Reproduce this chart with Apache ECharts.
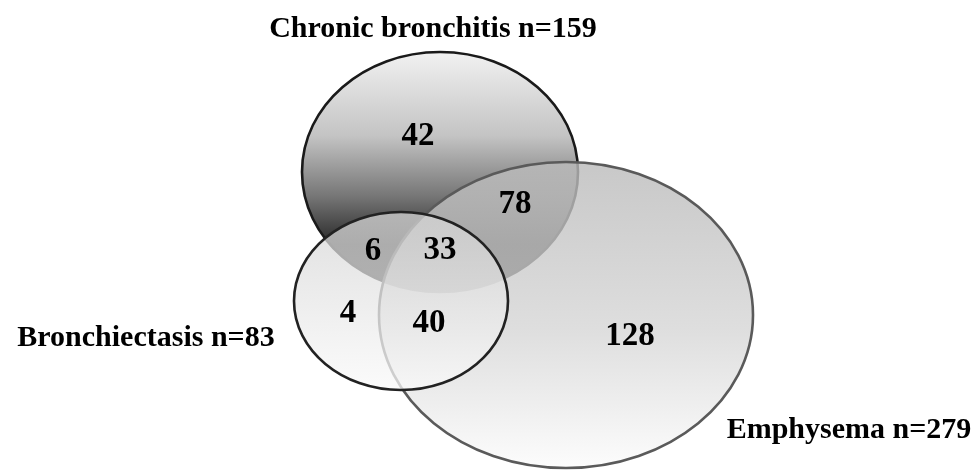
<!DOCTYPE html>
<html>
<head>
<meta charset="utf-8">
<script src="https://cdn.jsdelivr.net/npm/echarts@6/dist/echarts.min.js"></script>
<style>
  html, body { margin: 0; padding: 0; background: #fff; }
  #chart { width: 979px; height: 470px; }
</style>
</head>
<body>
<div id="chart"></div>
<script>
// sets: Chronic bronchitis, Bronchiectasis, Emphysema
const setNames = ["Chronic bronchitis", "Bronchiectasis", "Emphysema"];
const setTotals = [159, 83, 279];

// region counts (C = chronic bronchitis, B = bronchiectasis, E = emphysema)
const regionKeys = ["C", "CE", "CB", "CBE", "B", "BE", "E"];
const regionCounts = [42, 78, 6, 33, 4, 40, 128];

// layout, in axis units (the axes span the whole canvas)
const ellipseCx = [440, 401, 566];
const ellipseCy = [172, 301, 315];
const ellipseRx = [138, 107, 187];
const ellipseRy = [120, 89, 153];
const regionLabelX = [418, 515, 373, 440, 348, 429, 630];
const regionLabelY = [136, 204, 251, 250, 313, 323, 336];
const setLabelX = [433, 146, 849];
const setLabelY = [29, 338, 430];

const LG = echarts.graphic.LinearGradient;
const ellipseFill = [
  new LG(0, 0, 0, 1, [
    { offset: 0, color: "#f2f2f2" },
    { offset: 0.35, color: "#c4c4c4" },
    { offset: 0.6, color: "#767676" },
    { offset: 0.8, color: "#282828" },
    { offset: 1, color: "#1a1a1a" },
  ]),
  new LG(0, 0, 0, 1, [
    { offset: 0, color: "rgba(212,212,212,0.74)" },
    { offset: 1, color: "rgba(250,250,250,0.74)" },
  ]),
  new LG(0, 0, 0, 1, [
    { offset: 0, color: "rgba(186,186,186,0.8)" },
    { offset: 0.55, color: "rgba(214,214,214,0.8)" },
    { offset: 1, color: "rgba(252,252,252,0.8)" },
  ]),
];
const ellipseStroke = ["#1a1a1a", "#222222", "#5a5a5a"];
const ellipseZ = [1, 3, 2];

const serif = '"Liberation Serif", "DejaVu Serif", serif';

const chart = echarts.init(document.getElementById("chart"), null, { renderer: "canvas" });

const setData = setNames.map((name, i) => [ellipseCx[i], ellipseCy[i], ellipseRx[i], ellipseRy[i]]);
const regionData = regionCounts.map((v, i) => [regionLabelX[i], regionLabelY[i], v]);
const setLabelData = setNames.map((name, i) => [setLabelX[i], setLabelY[i], i]);

chart.setOption({
  animation: false,
  backgroundColor: "#ffffff",
  grid: { left: 0, right: 0, top: 0, bottom: 0 },
  xAxis: { type: "value", min: 0, max: 979, show: false },
  yAxis: { type: "value", min: 0, max: 470, inverse: true, show: false },
  series: [
    {
      type: "custom",
      name: "sets",
      data: setData,
      renderItem: (params, api) => {
        const i = params.dataIndex;
        const c = api.coord([api.value(0), api.value(1)]);
        const s = api.size([api.value(2), api.value(3)]);
        return {
          type: "ellipse",
          z2: ellipseZ[i],
          shape: { cx: c[0], cy: c[1], rx: Math.abs(s[0]), ry: Math.abs(s[1]) },
          style: { fill: ellipseFill[i], stroke: ellipseStroke[i], lineWidth: 2.6 },
        };
      },
    },
    {
      type: "custom",
      name: "regions",
      z: 3,
      data: regionData,
      renderItem: (params, api) => {
        const c = api.coord([api.value(0), api.value(1)]);
        return {
          type: "text",
          style: {
            x: c[0], y: c[1],
            text: String(api.value(2)),
            align: "center", verticalAlign: "middle",
            font: "bold 33px " + serif,
            fill: "#000",
          },
        };
      },
    },
    {
      type: "custom",
      name: "setLabels",
      z: 3,
      data: setLabelData,
      renderItem: (params, api) => {
        const i = api.value(2);
        const c = api.coord([api.value(0), api.value(1)]);
        return {
          type: "text",
          style: {
            x: c[0], y: c[1],
            text: setNames[i] + " n=" + setTotals[i],
            align: "center", verticalAlign: "middle",
            font: "bold 30px " + serif,
            fill: "#000",
          },
        };
      },
    },
  ],
});
</script>
</body>
</html>
